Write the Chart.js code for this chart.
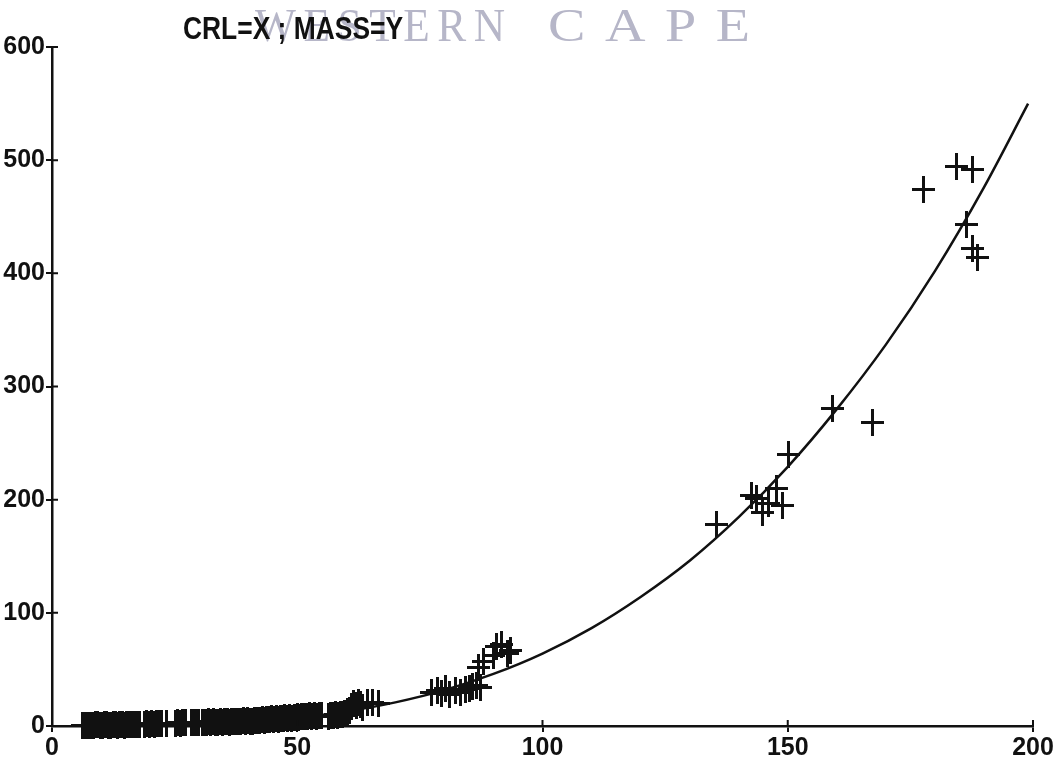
<!DOCTYPE html>
<html>
<head>
<meta charset="utf-8">
<script src="https://cdn.jsdelivr.net/npm/chart.js@4/dist/chart.umd.min.js"></script>
<style>
  html, body { margin: 0; padding: 0; background: #ffffff; }
  canvas { display: block; }
</style>
</head>
<body>
<canvas id="chart" width="1061" height="767"></canvas>
<script>
// Crown-rump length (mm) against mass (g): individual specimens
const crlSmall = [
  6.2, 6.6, 7.0, 7.5, 8.0, 8.4, 8.9, 9.3, 9.8, 10.2, 10.7, 11.1, 11.6, 12.0, 12.5, 12.9, 13.4, 13.8, 14.3, 14.7, 15.2, 15.6, 16.1, 16.5, 17.0, 17.4, 17.9,
  18.8, 19.3, 19.8, 20.3, 20.8, 21.3, 21.8, 22.4,
  23.4,
  25.1, 25.6, 26.1, 26.7, 27.3,
  28.5, 29.0, 29.4, 29.8,
  30.6, 31.0, 31.5, 32.0, 32.4, 32.9, 33.4, 33.8, 34.3, 34.8, 35.2, 35.7, 36.2, 36.6, 37.1, 37.6, 38.0, 38.5, 39.0, 39.4, 39.9, 40.4, 40.8, 41.3, 41.7, 42.0,
  42.4, 42.9, 43.3, 43.8, 44.3, 44.7, 45.2, 45.7, 46.1, 46.6, 47.1, 47.5, 48.0, 48.5, 48.9, 49.4, 50.0,
  50.3, 50.8, 51.3, 51.6,
  52.0, 52.5, 53.0, 53.5, 54.0, 54.5, 55.0,
  56.3, 56.8, 57.3, 57.8, 58.3, 58.8, 59.3,
  59.7, 60.2, 60.6, 61.1, 61.5, 62.0, 62.5, 62.9, 63.4,
  64.4, 65.4, 66.5
];
const massSmall = [
  0.3, 0.5, 0.4, 0.8, 0.6, 0.4, 0.9, 1.1, 0.7, 0.5, 1.0, 1.3, 0.8, 0.6, 1.2, 0.9, 0.7, 1.4, 1.0, 0.8, 1.3, 1.6, 1.1, 0.9, 1.5, 1.2, 1.0,
  1.4, 1.8, 1.5, 2.0, 1.7, 2.2, 1.9, 2.1,
  2.0,
  2.4, 2.8, 2.5, 3.0, 2.7,
  2.9, 3.2, 2.8, 3.3,
  3.0, 3.4, 2.8, 3.6, 3.2, 3.8, 3.4, 3.0, 3.9, 3.5, 4.1, 3.6, 3.3, 4.2, 3.8, 4.4, 4.0, 3.6, 4.6, 4.2, 4.8, 4.4, 4.0, 5.0, 4.6, 5.2,
  5.0, 5.6, 5.2, 6.0, 5.5, 6.3, 5.8, 6.6, 6.1, 6.9, 6.4, 7.2, 6.7, 7.5, 7.0, 7.8, 8.2,
  7.6, 8.4, 8.0, 8.8,
  8.2, 8.9, 8.5, 9.3, 8.7, 9.6, 9.0,
  8.8, 9.6, 9.2, 10.1, 9.5, 10.5, 10.0,
  11.0, 12.5, 14.0, 17.5, 19.5, 18.5, 20.5, 19.0, 16.0,
  20.5, 21.0, 20.0
];
const crlMid = [77.3, 78.5, 79.5, 80.3, 81.1, 82.2, 83.2, 84.2, 85.2, 85.8, 86.6, 87.3, 86.9, 87.9, 90.1, 90.7, 91.7, 92.8, 93.4];
const massMid = [30, 31, 29, 33, 28, 31, 30, 32, 33, 35, 36, 34, 52, 57, 62, 70, 72, 64, 67];
const crlLarge = [135.5, 142.7, 143.7, 144.8, 146.0, 147.8, 149.0, 150.1, 159.2, 167.2, 177.6, 184.5, 187.6, 186.5, 187.6, 188.6];
const massLarge = [178, 204, 201, 189, 197, 210, 195, 240, 281, 268, 474, 494, 492, 443, 422, 414];

// Fitted growth curve
const fitX = [5, 10, 20, 30, 40, 50, 60, 70, 80, 90, 100, 110, 120, 130, 140, 150, 160, 170, 180, 190, 199];
const fitY = [0.1, 0.1, 0.4, 1.5, 3.6, 7.3, 12.9, 20.9, 31.7, 46, 64, 86.5, 114, 146, 184.5, 229, 280, 337, 402, 476, 550];

// Axis ticks
const xTicks = [0, 50, 100, 150, 200];
const yTicks = [0, 100, 200, 300, 400, 500, 600];

const titleText = 'CRL=X ; MASS=Y';
const stampWords = ['WESTERN', 'CAPE'];

const INK = '#111111';

// Plotter-style "+" marker, slightly taller than wide, on whole pixels
function makeCross() {
  const c = document.createElement('canvas');
  c.width = 23; c.height = 29;
  const g = c.getContext('2d');
  g.fillStyle = INK;
  g.fillRect(0, 13, 23, 3);   // horizontal arm
  g.fillRect(10, 1, 3, 27);   // vertical arm
  return c;
}
const cross = makeCross();

function pairs(xs, ys) {
  return xs.map((x, i) => ({ x: x, y: ys[i] }));
}
const specimens = pairs(crlSmall, massSmall).concat(pairs(crlMid, massMid), pairs(crlLarge, massLarge));
const curve = pairs(fitX, fitY);

const tickFont = { family: '"Liberation Sans", Arial, sans-serif', weight: 'bold', size: 25 };

// White page background; crisp marker stamping
const paper = {
  id: 'paper',
  beforeDraw(chart) {
    const ctx = chart.ctx;
    ctx.save();
    ctx.fillStyle = '#ffffff';
    ctx.fillRect(0, 0, chart.width, chart.height);
    ctx.restore();
  },
  beforeDatasetsDraw(chart) {
    chart.ctx.imageSmoothingEnabled = false;
  }
};

// Tick marks that cross the axis lines (inner half)
const innerTicks = {
  id: 'innerTicks',
  afterDatasetsDraw(chart) {
    const ctx = chart.ctx;
    const xs = chart.scales.x, ys = chart.scales.y;
    const a = chart.chartArea;
    ctx.save();
    ctx.strokeStyle = INK;
    ctx.lineWidth = 2;
    ctx.beginPath();
    xTicks.forEach(v => {
      const px = xs.getPixelForValue(v);
      ctx.moveTo(px, a.bottom); ctx.lineTo(px, a.bottom - 6);
    });
    yTicks.forEach(v => {
      const py = ys.getPixelForValue(v);
      ctx.moveTo(a.left, py); ctx.lineTo(a.left + 6, py);
    });
    ctx.stroke();
    ctx.restore();
  }
};

// Draw a word stretched to span [left, right]
function spanText(ctx, text, left, right, baseline, spacing) {
  ctx.save();
  ctx.letterSpacing = spacing + 'px';
  const w = ctx.measureText(text).width - spacing;
  ctx.translate(left, baseline);
  ctx.scale((right - left) / w, 1);
  ctx.fillText(text, 0, 0);
  ctx.restore();
}

// Heading with the faint stamped lettering behind it
const heading = {
  id: 'heading',
  afterDraw(chart) {
    const ctx = chart.ctx;
    ctx.save();
    ctx.font = '46px "Liberation Serif", "DejaVu Serif", serif';
    ctx.fillStyle = '#b6b6c8';
    ctx.textBaseline = 'alphabetic';
    spanText(ctx, stampWords[0], 255, 505, 41, 8);
    spanText(ctx, stampWords[1], 548, 750, 41, 16);
    ctx.restore();

    ctx.save();
    ctx.font = 'bold 31px "Liberation Sans", Arial, sans-serif';
    ctx.fillStyle = INK;
    ctx.textBaseline = 'alphabetic';
    spanText(ctx, titleText, 183, 403, 39, 0);
    ctx.restore();
  }
};

new Chart(document.getElementById('chart'), {
  data: {
    datasets: [
      {
        type: 'line',
        data: curve,
        borderColor: INK,
        borderWidth: 2.5,
        pointRadius: 0,
        fill: false,
        cubicInterpolationMode: 'monotone',
        order: 2
      },
      {
        type: 'scatter',
        data: specimens,
        pointStyle: cross,
        pointRadius: 3,
        clip: false,
        order: 1
      }
    ]
  },
  options: {
    responsive: false,
    animation: false,
    layout: { padding: { left: 0, top: 47, right: 28, bottom: 0 } },
    plugins: { legend: { display: false }, tooltip: { enabled: false } },
    scales: {
      x: {
        type: 'linear',
        min: 0, max: 200,
        afterBuildTicks(s) { s.ticks = xTicks.map(v => ({ value: v })); },
        ticks: { color: INK, font: tickFont, padding: 1, maxRotation: 0, autoSkip: false },
        grid: { drawOnChartArea: false, drawTicks: true, tickLength: 6, color: INK, lineWidth: 2 },
        border: { color: INK, width: 2.5 },
        afterFit(s) { s.height = 41; }
      },
      y: {
        type: 'linear',
        min: 0, max: 600,
        afterBuildTicks(s) { s.ticks = yTicks.map(v => ({ value: v })); },
        ticks: { color: INK, font: tickFont, padding: 1, autoSkip: false },
        grid: { drawOnChartArea: false, drawTicks: true, tickLength: 6, color: INK, lineWidth: 2 },
        border: { color: INK, width: 2.5 },
        afterFit(s) { s.width = 52; }
      }
    }
  },
  plugins: [paper, innerTicks, heading]
});
</script>
</body>
</html>
